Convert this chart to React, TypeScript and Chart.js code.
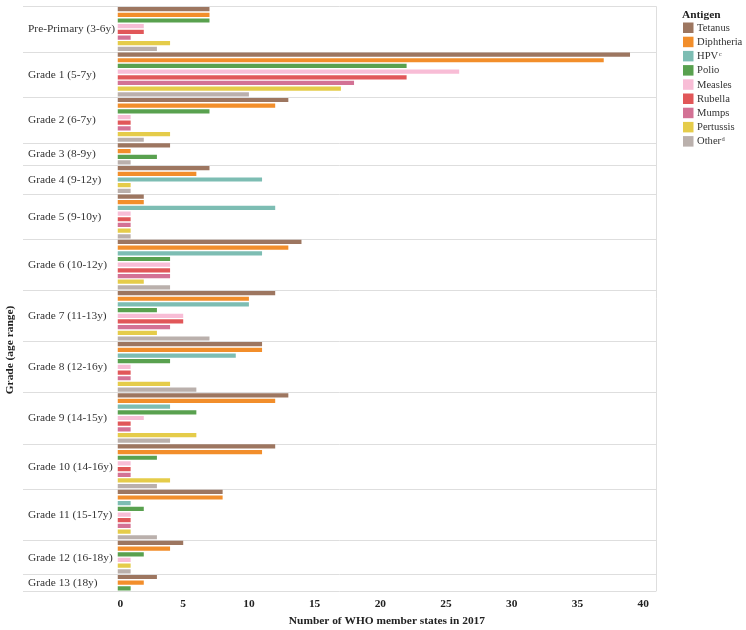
import React, { useEffect, useRef } from "react";
import { Chart, registerables } from "chart.js";

Chart.register(...registerables);

const grades = [
  "Pre-Primary (3-6y)",
  "Grade 1 (5-7y)",
  "Grade 2 (6-7y)",
  "Grade 3 (8-9y)",
  "Grade 4 (9-12y)",
  "Grade 5 (9-10y)",
  "Grade 6 (10-12y)",
  "Grade 7 (11-13y)",
  "Grade 8 (12-16y)",
  "Grade 9 (14-15y)",
  "Grade 10 (14-16y)",
  "Grade 11 (15-17y)",
  "Grade 12 (16-18y)",
  "Grade 13 (18y)",
];

const antigens = ["Tetanus", "Diphtheria", "HPV", "Polio", "Measles", "Rubella", "Mumps", "Pertussis", "Other"];
const antigenSup = ["", "", "c", "", "", "", "", "", "d"];
const antigenColors = ["#9D7660", "#F28E2B", "#7DBDB3", "#59A14F", "#F8BDD6", "#E15759", "#D37295", "#E5CC4A", "#BAB0AC"];

// values per antigen across grades (0 = not shown)
const tetanus = [7, 39, 13, 4, 7, 2, 14, 12, 11, 13, 12, 8, 5, 3];
const diphtheria = [7, 37, 12, 1, 6, 2, 13, 10, 11, 12, 11, 8, 4, 2];
const hpv = [0, 0, 0, 0, 11, 12, 11, 10, 9, 4, 0, 1, 0, 0];
const polio = [7, 22, 7, 3, 0, 0, 4, 3, 4, 6, 3, 2, 2, 1];
const measles = [2, 26, 1, 0, 0, 1, 4, 5, 1, 2, 1, 1, 1, 0];
const rubella = [2, 22, 1, 0, 0, 1, 4, 5, 1, 1, 1, 1, 0, 0];
const mumps = [1, 18, 1, 0, 0, 1, 4, 4, 1, 1, 1, 1, 0, 0];
const pertussis = [4, 17, 4, 0, 1, 1, 2, 3, 4, 6, 4, 1, 1, 0];
const other = [3, 10, 2, 1, 1, 1, 4, 7, 6, 4, 3, 3, 1, 0];

const series = [tetanus, diphtheria, hpv, polio, measles, rubella, mumps, pertussis, other];
const xTicks = [0, 5, 10, 15, 20, 25, 30, 35, 40];
const xMax = 41;
const xTitle = "Number of WHO member states in 2017";
const yTitle = "Grade (age range)";
const legendTitle = "Antigen";

const SERIF = '"Liberation Serif", "Times New Roman", serif';

export default function App() {
  const ref = useRef<HTMLCanvasElement | null>(null);

  useEffect(() => {
    document.body.style.margin = "0";
    const canvas = ref.current;
    if (!canvas) return;

    const labels: string[] = [];
    const values: number[] = [];
    const colors: string[] = [];
    const groups: { name: string; start: number; count: number }[] = [];
    grades.forEach((g, gi) => {
      const start = labels.length;
      antigens.forEach((a, ai) => {
        const v = series[ai][gi];
        if (v > 0) {
          labels.push(g + "|" + a);
          values.push(v);
          colors.push(antigenColors[ai]);
        }
      });
      groups.push({ name: g, start, count: labels.length - start });
    });

    const decor = {
      id: "decor",
      beforeDatasetsDraw(chart: any) {
        const { ctx, chartArea } = chart;
        const y = chart.scales.y;
        const rowH = y.getPixelForValue(1) - y.getPixelForValue(0);
        ctx.save();
        ctx.strokeStyle = "#dedede";
        ctx.lineWidth = 1;
        const bounds: number[] = groups.map((gr) => y.getPixelForValue(gr.start) - rowH / 2);
        bounds.push(chartArea.bottom);
        bounds.forEach((b) => {
          const yy = Math.round(b) + 0.5;
          ctx.beginPath();
          ctx.moveTo(23, yy);
          ctx.lineTo(chartArea.right, yy);
          ctx.stroke();
        });
        const xr = Math.round(chartArea.right) + 0.5;
        ctx.beginPath();
        ctx.moveTo(xr, chartArea.top);
        ctx.lineTo(xr, chartArea.bottom);
        ctx.stroke();
        ctx.restore();
      },
      afterDraw(chart: any) {
        const { ctx, chartArea } = chart;
        const x = chart.scales.x;
        const y = chart.scales.y;
        const rowH = y.getPixelForValue(1) - y.getPixelForValue(0);
        ctx.save();
        // group labels
        ctx.fillStyle = "#333";
        ctx.font = "11.4px " + SERIF;
        ctx.textAlign = "left";
        ctx.textBaseline = "middle";
        groups.forEach((gr) => {
          const top = y.getPixelForValue(gr.start) - rowH / 2;
          const bottom = y.getPixelForValue(gr.start + gr.count - 1) + rowH / 2;
          ctx.fillText(gr.name, 28, (top + bottom) / 2 + 0.5);
        });
        // x tick labels
        ctx.fillStyle = "#222";
        ctx.font = "bold 11.4px " + SERIF;
        xTicks.forEach((v, i) => {
          const px = x.getPixelForValue(v);
          ctx.textAlign = i === 0 ? "left" : "center";
          ctx.fillText(String(v), px, chartArea.bottom + 12.5);
        });
        // x title
        ctx.textAlign = "center";
        ctx.fillText(xTitle, (chartArea.left + chartArea.right) / 2, 621);
        // y title
        ctx.save();
        ctx.translate(10, 350);
        ctx.rotate(-Math.PI / 2);
        ctx.textAlign = "center";
        ctx.fillText(yTitle, 0, 0);
        ctx.restore();
        // legend
        ctx.textAlign = "left";
        ctx.fillStyle = "#222";
        ctx.font = "bold 11.4px " + SERIF;
        ctx.fillText(legendTitle, 682, 15);
        antigens.forEach((a, i) => {
          const cy = 27.5 + i * 14.2;
          ctx.fillStyle = antigenColors[i];
          ctx.fillRect(683, cy - 5, 10.5, 10.5);
          ctx.fillStyle = "#333";
          ctx.font = "10.6px " + SERIF;
          ctx.fillText(a, 697, cy + 0.5);
          if (antigenSup[i]) {
            const w = ctx.measureText(a).width;
            ctx.font = "6.5px " + SERIF;
            ctx.fillText(antigenSup[i], 697 + w + 0.5, cy - 2);
          }
        });
        ctx.restore();
      },
    };

    const chart = new Chart(canvas, {
      type: "bar",
      data: {
        labels,
        datasets: [
          {
            data: values,
            backgroundColor: colors,
            borderWidth: 0,
            barPercentage: 0.74,
            categoryPercentage: 1,
          },
        ],
      },
      options: {
        indexAxis: "y",
        responsive: false,
        animation: false,
        layout: { padding: { left: 117.5, top: 6.3, right: 89.7, bottom: 38.8 } },
        plugins: { legend: { display: false }, tooltip: { enabled: false } },
        scales: {
          x: { type: "linear", min: 0, max: xMax, display: false },
          y: { type: "category", display: false, offset: true },
        },
      },
      plugins: [decor],
    } as any);

    return () => chart.destroy();
  }, []);

  return <canvas ref={ref} width={746} height={630} style={{ display: "block" }} />;
}
